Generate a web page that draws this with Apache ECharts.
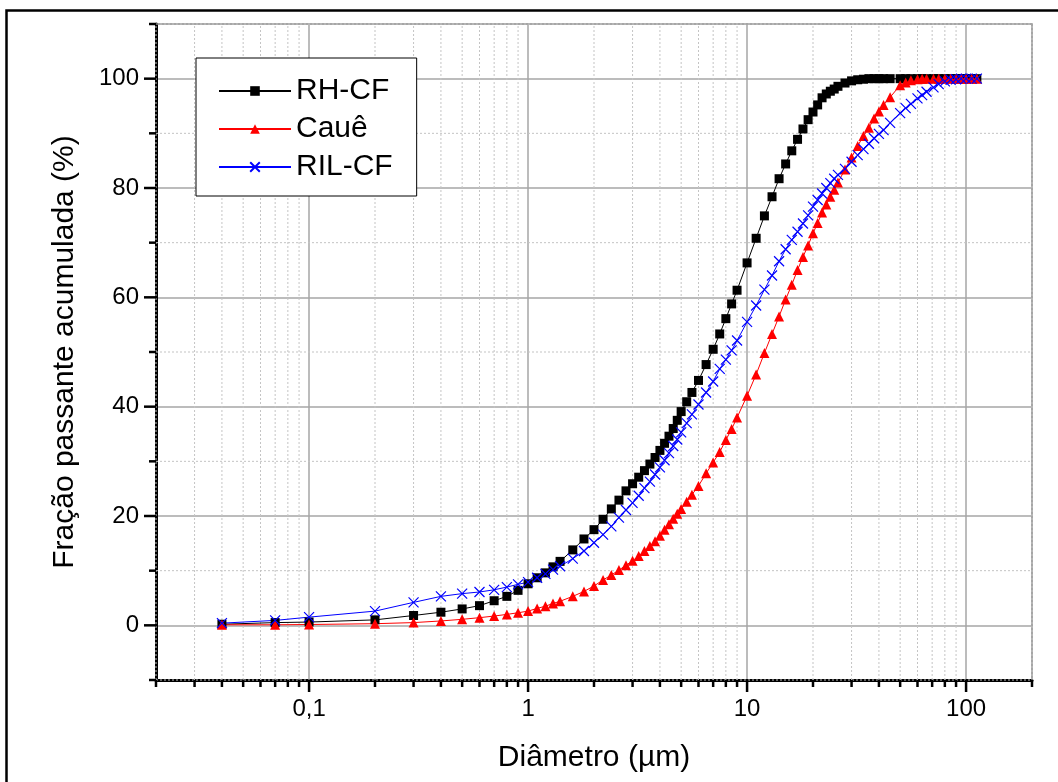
<!DOCTYPE html>
<html><head><meta charset="utf-8">
<script src="https://cdn.jsdelivr.net/npm/echarts@6/dist/echarts.min.js"></script>
<style>html,body{margin:0;padding:0;background:#fff}#c{width:1058px;height:782px}</style>
</head><body><div id="c"></div>
<script>
// ---- data ----
const diameters = [0.04, 0.07, 0.1, 0.2, 0.3, 0.4, 0.5, 0.6, 0.7, 0.8, 0.9,
  1.0, 1.1, 1.2, 1.3, 1.4, 1.6, 1.8, 2.0, 2.2, 2.4, 2.6, 2.8, 3.0, 3.2, 3.4, 3.6, 3.8,
  4.0, 4.2, 4.4, 4.6, 4.8, 5.0, 5.3, 5.6, 6.0, 6.5, 7.0, 7.5, 8.0, 8.5, 9.0,
  10, 11, 12, 13, 14, 15, 16, 17, 18, 19, 20, 21, 22, 23, 24, 25, 26, 28, 30, 32, 34, 36, 38, 40, 42,
  45, 50, 53, 56, 60, 63, 66, 71, 75, 80, 85, 90, 95, 100, 106, 112];
const rhcf = [0.2, 0.5, 0.6, 1.0, 1.8, 2.4, 3.0, 3.6, 4.5, 5.3, 6.4,
  7.6, 8.7, 9.6, 10.7, 11.7, 13.8, 15.8, 17.5, 19.4, 21.3, 22.9, 24.6, 25.9, 27.1, 28.3, 29.5, 30.7,
  32.0, 33.3, 34.6, 36.0, 37.5, 39.1, 40.9, 42.6, 44.8, 47.7, 50.5, 53.3, 56.1, 58.8, 61.3,
  66.3, 70.8, 74.9, 78.4, 81.7, 84.4, 86.8, 88.9, 90.8, 92.5, 93.9, 95.2, 96.5, 97.2, 97.7, 98.1, 98.6, 99.2, 99.6, 99.8, 99.9, 100, 100, 100, 100,
  100, 100, 100, 100, 100, 100, 100, 100, 100, 100, 100, 100, 100, 100, 100, 100];
const caue = [0.1, 0.1, 0.15, 0.3, 0.5, 0.8, 1.1, 1.4, 1.7, 2.0, 2.3,
  2.6, 3.1, 3.5, 4.0, 4.4, 5.3, 6.2, 7.2, 8.3, 9.2, 10.1, 11.0, 11.8, 12.7, 13.6, 14.5, 15.4,
  16.4, 17.5, 18.5, 19.5, 20.4, 21.3, 22.6, 23.9, 25.5, 27.8, 29.8, 31.7, 33.9, 35.9, 38.0,
  42.0, 45.9, 49.8, 53.3, 56.5, 59.6, 62.3, 65.0, 67.4, 69.5, 71.7, 73.6, 75.5, 77.0, 78.4, 79.7, 81.0, 83.4, 85.6, 87.7, 89.5, 91.0, 92.7, 94.0, 95.2,
  96.6, 98.8, 99.3, 99.7, 99.9, 100, 100, 100, 100, 100, 100, 100, 100, 100, 100, 100];
const rilcf = [0.4, 0.9, 1.5, 2.6, 4.2, 5.3, 5.8, 6.1, 6.5, 7.0, 7.5,
  7.9, 8.7, 9.4, 10.2, 10.8, 12.2, 13.6, 15.1, 16.6, 18.1, 19.7, 21.1, 22.4, 23.7, 25.1, 26.3, 27.6,
  28.9, 30.2, 31.5, 32.8, 34.0, 35.3, 37.0, 38.6, 40.4, 42.6, 44.6, 46.9, 48.6, 50.3, 52.1,
  55.5, 58.5, 61.4, 64.0, 66.6, 68.8, 70.5, 72.0, 73.5, 75.0, 76.6, 77.8, 79.0, 80.0, 80.9, 81.7, 82.4, 83.5, 84.8, 86.0, 87.1, 88.1, 89.1, 89.9, 90.6,
  91.9, 93.7, 94.6, 95.4, 96.4, 97.0, 97.6, 98.4, 99.0, 99.5, 99.8, 99.9, 100, 100, 100, 100];
const seriesNames = ['RH-CF', 'Cauê', 'RIL-CF'];
const xMajorTicks = [0.1, 1, 10, 100];
const xMinorTicks = [0.02, 0.03, 0.04, 0.05, 0.06, 0.07, 0.08, 0.09,
  0.2, 0.3, 0.4, 0.5, 0.6, 0.7, 0.8, 0.9, 2, 3, 4, 5, 6, 7, 8, 9,
  20, 30, 40, 50, 60, 70, 80, 90, 200];
const yMajorTicks = [0, 20, 40, 60, 80, 100];
const yMinorTicks = [-10, 10, 30, 50, 70, 90, 110];
const X_MIN = 0.02, X_MAX = 200, Y_MIN = -10, Y_MAX = 110;

const FONT = '"Liberation Sans", Arial, sans-serif';
const chart = echarts.init(document.getElementById('c'), null, {renderer: 'canvas'});

function tickSeries(values, isX, len, width) {
  return {
    type: 'custom', coordinateSystem: 'cartesian2d', silent: true, clip: false, z: 6,
    data: values.map(v => isX ? [v, Y_MIN] : [X_MIN, v]),
    renderItem: (params, api) => {
      const p = api.coord([api.value(0), api.value(1)]);
      const shape = isX ? {x1: p[0], y1: p[1], x2: p[0], y2: p[1] + len}
                        : {x1: p[0], y1: p[1], x2: p[0] - len, y2: p[1]};
      return {type: 'line', shape, style: {stroke: '#000', lineWidth: width}};
    }
  };
}
function minorGridSeries(values, isX) {
  return {
    type: 'custom', coordinateSystem: 'cartesian2d', silent: true, clip: false, z: 1,
    data: values.map(v => isX ? [v, Y_MIN] : [X_MIN, v]),
    renderItem: (params, api) => {
      const v = isX ? api.value(0) : api.value(1);
      const a = isX ? api.coord([v, Y_MIN]) : api.coord([X_MIN, v]);
      const b = isX ? api.coord([v, Y_MAX]) : api.coord([X_MAX, v]);
      return {type: 'line', shape: {x1: a[0], y1: a[1], x2: b[0], y2: b[1]},
        style: {stroke: '#c4c4c4', lineWidth: 1, lineDash: [2, 2]}};
    }
  };
}
const crossPath = 'path://M0,0L10,10M10,0L0,10';
function lineSeries(name, values, color, symbol, size) {
  return {
    name, type: 'line', data: diameters.map((d, i) => [d, values[i]]),
    symbol, symbolSize: size, z: 3,
    lineStyle: {color, width: 1},
    itemStyle: {color: symbol === crossPath ? 'rgba(0,0,0,0)' : color, borderColor: color, borderWidth: symbol === crossPath ? 1.2 : 0},
    emphasis: {disabled: true}
  };
}

chart.setOption({
  animation: false,
  backgroundColor: '#fff',
  textStyle: {fontFamily: FONT},
  graphic: [{type: 'rect', shape: {x: 6.5, y: 10.5, width: 1200, height: 1000},
    style: {fill: 'none', stroke: '#000', lineWidth: 2.5}, z: 100, silent: true}],
  grid: {left: 156, right: 26, top: 24, bottom: 102, show: true, borderColor: '#8a8a8a', borderWidth: 1.5, backgroundColor: 'transparent'},
  legend: {
    data: seriesNames, orient: 'vertical', left: 196, top: 58,
    padding: [18, 24, 14, 22], itemGap: 8, itemWidth: 72, itemHeight: 12,
    backgroundColor: '#fff', borderColor: '#000', borderWidth: 1, borderRadius: 0,
    textStyle: {fontSize: 30, color: '#000', fontFamily: FONT},
    selectedMode: false
  },
  xAxis: {
    type: 'log', logBase: 10, min: X_MIN, max: X_MAX,
    name: 'Diâmetro (µm)', nameLocation: 'middle', nameGap: 63,
    nameTextStyle: {fontSize: 30, color: '#000', fontFamily: FONT},
    axisLine: {show: true, onZero: false, lineStyle: {color: '#000', width: 3}},
    axisTick: {show: false},
    axisLabel: {fontSize: 24, color: '#000', margin: 17, fontFamily: FONT,
      formatter: v => { const l = Math.log10(v); if (Math.abs(l - Math.round(l)) > 1e-6) return '';
        return String(+(+v).toPrecision(6)).replace('.', ','); }},
    splitLine: {show: true, lineStyle: {color: '#a6a6a6', width: 1.5}},
    minorTick: {show: false}, minorSplitLine: {show: false}
  },
  yAxis: {
    type: 'value', min: Y_MIN, max: Y_MAX, splitNumber: 6,
    name: 'Fração passante acumulada (%)', nameLocation: 'middle', nameGap: 76,
    nameTextStyle: {fontSize: 30, color: '#000', fontFamily: FONT},
    axisLine: {show: true, onZero: false, lineStyle: {color: '#000', width: 3}},
    axisTick: {show: false},
    axisLabel: {fontSize: 24, color: '#000', margin: 17, fontFamily: FONT,
      formatter: v => (v < 0 || v > 100) ? '' : String(v)},
    splitLine: {show: true, lineStyle: {color: '#a6a6a6', width: 1.5}}
  },
  series: [
    minorGridSeries(xMinorTicks, true),
    minorGridSeries(yMinorTicks, false),
    lineSeries(seriesNames[0], rhcf, '#000000', 'rect', 9),
    lineSeries(seriesNames[1], caue, '#ff0000', 'triangle', 10),
    lineSeries(seriesNames[2], rilcf, '#0000ff', crossPath, 10),
    tickSeries(xMajorTicks, true, 12, 2.5),
    tickSeries(xMinorTicks, true, 7, 2.5),
    tickSeries(yMajorTicks, false, 12, 2.5),
    tickSeries(yMinorTicks, false, 7, 2.5)
  ]
});
</script></body></html>
